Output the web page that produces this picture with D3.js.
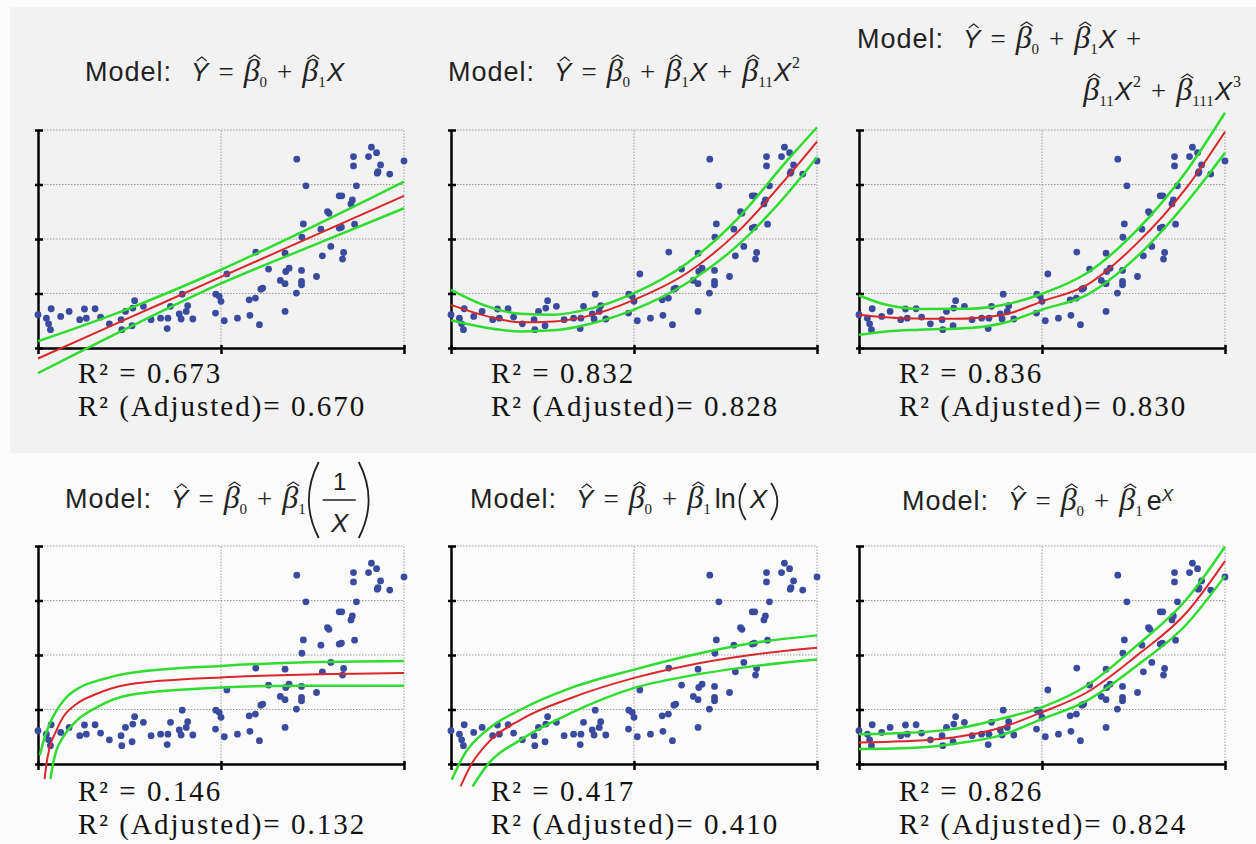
<!DOCTYPE html>
<html>
<head>
<meta charset="utf-8">
<script src="https://cdn.jsdelivr.net/npm/d3@7"></script>
<style>
body { margin: 0; background: #fbfbfb; }
svg { display: block; }
</style>
</head>
<body>
<svg id="chart" width="1256" height="844"></svg>
<script>
// scatter points, the same sample in all six panels (0-100 on both axes)
var ptX = [0, 2.3, 2.9, 3.4, 3.6, 6.2, 8.5, 11.4, 12.7, 13.2,
  15.6, 17.1, 19.5, 22.9, 22.7, 23.9, 25.7, 26.4, 25.9, 28.8,
  30.9, 33.5, 35.3, 35.5, 36.2, 38.6, 39.1, 39.4, 40.5, 40.9,
  42.3, 48.5, 48.6, 49.5, 50.0, 50.9, 51.6, 54.5, 57.9, 57.7,
  59.4, 59.5, 60.5, 60.9, 61.4, 63.0, 66.2, 67.5, 67.5, 67.7,
  68.6, 67.5, 70.6, 70.7, 72.0, 72.0, 72.0, 72.1, 72.5, 73.2,
  76.1, 77.3, 77.7, 80.0, 79.1, 79.5, 82.3, 83.0, 82.3, 82.9,
  83.2, 83.5, 85.5, 85.9, 86.2, 86.2, 86.5, 87.0, 90.3, 91.1,
  92.5, 92.7, 93.6, 92.9, 96.1, 100]
var ptY = [15.3, 13.7, 11.1, 8.4, 18.0, 14.5, 16.8, 13.0, 17.9, 13.7,
  18.0, 14.2, 11.1, 8.4, 13.0, 16.8, 10.2, 21.7, 18.3, 19.1,
  13.0, 13.7, 8.9, 13.7, 19.1, 15.6, 13.3, 24.7, 16.8, 19.4,
  13.3, 16.0, 24.7, 23.7, 21.4, 12.5, 34.0, 13.7, 15.0, 22.1,
  22.9, 44.0, 10.7, 27.0, 27.5, 36.2, 31.0, 16.8, 29.5, 35.1,
  36.6, 43.5, 25.2, 86.6, 35.6, 30.5, 29.0, 50.8, 56.9, 74.4,
  32.8, 54.5, 42.3, 46.6, 62.6, 61.8, 69.8, 69.8, 55.0, 55.4,
  40.8, 43.8, 66.1, 67.9, 83.5, 87.8, 56.8, 74.4, 87.8, 92.1,
  89.6, 80.2, 84.0, 80.9, 79.8, 85.8]

// fitted curve (red) and its bands (green), read per panel
var linX = [0, 25, 50, 75, 100]
var linFit = [-4.8, 13.9, 32.6, 51.2, 69.8]
var linUp = [3.1, 18.2, 35.9, 55.6, 76.3]
var linLo = [-11.5, 9.6, 29.6, 47.0, 64.1]

var quadX = [0, 10, 19, 28, 37, 50, 64.5, 78, 92, 100]
var quadFit = [19.8, 14.5, 11.8, 12.2, 14.5, 22.1, 34.4, 52.7, 78.6, 94.7]
var quadUp = [26.7, 19.1, 15.7, 15.3, 17.6, 25.2, 38.9, 58.8, 86.3, 101.2]
var quadLo = [12.7, 9.2, 7.6, 8.1, 10.7, 17.6, 29.8, 46.6, 71.0, 87.5]

var cubFitX = [0, 12.1, 25.8, 39.5, 50, 62.3, 76, 89.7, 100]
var cubFit = [15.3, 13.7, 13.4, 15.3, 21.4, 29.0, 48.1, 74.0, 99.2]
var cubBandX = [0, 7.5, 16.6, 30.3, 39.5, 50, 62.3, 76, 89.7, 100]
var cubUp = [24.1, 19.8, 17.9, 18.0, 19.8, 24.9, 34.4, 54.2, 81.7, 107.9]
var cubLo = [6.1, 7.6, 8.4, 9.2, 11.5, 17.6, 24.4, 42.0, 67.2, 89.6]

var invX = [1.8, 2.3, 3.2, 5.0, 6.8, 10.5, 15.9, 25.0, 50.0, 71.4, 100]
var invFit = [-6.9, 0, 7.6, 15.3, 21.3, 27.5, 32.1, 36.6, 39.7, 40.9, 41.7]
var invUpX = [0.5, 1.8, 3.2, 5.0, 7.7, 11.4, 17.7, 25.0, 50, 71.4, 100]
var invUp = [4, 12.2, 18.5, 24.4, 30.5, 35.1, 38.9, 41.7, 45.0, 46.6, 47.3]
var invLoX = [3.4, 4.1, 5.0, 6.8, 10.5, 15.9, 25.0, 50, 71.4, 100]
var invLo = [-6.9, 0, 6.1, 12.2, 19.8, 25.9, 31.7, 35.1, 35.9, 35.9]

var logX = [2.6, 5.5, 10.0, 19.1, 32.8, 50.1, 64.7, 82.9, 100]
var logFit = [-10.3, -0.3, 9.6, 20.4, 30.3, 39.5, 45.2, 50.2, 53.3]
var logUpX = [0.2, 3.6, 10.0, 19.1, 32.8, 50.1, 64.7, 82.9, 100]
var logUp = [-7.2, 4.3, 15.8, 25.0, 34.9, 43.3, 49.5, 55.6, 59.0]
var logLoX = [5.9, 10.0, 19.1, 32.8, 50.1, 64.7, 82.9, 100]
var logLo = [-10.3, -0.3, 11.2, 23.4, 34.9, 40.3, 44.9, 47.9]

var expX = [0, 12, 25.7, 39.4, 49.9, 62.2, 75.8, 89.5, 100]
var expFit = [9.9, 10.4, 12.2, 17.0, 23.7, 32.8, 49.6, 69.5, 93.1]
var expUp = [13.7, 14.2, 16.0, 21.0, 26.0, 35.9, 54.2, 75.6, 99.7]
var expLo = [6.9, 7.2, 9.2, 13.5, 20.6, 29.0, 45.0, 64.1, 86.3]

var r2 = ["0.673", "0.832", "0.836", "0.146", "0.417", "0.826"]
var r2adj = ["0.670", "0.828", "0.830", "0.132", "0.410", "0.824"]

var xTicks = [0, 50, 100]
var yTicks = [0, 25, 50, 75, 100]

var panels = [
  {fit: [linX, linFit], up: [linX, linUp], lo: [linX, linLo]},
  {fit: [quadX, quadFit], up: [quadX, quadUp], lo: [quadX, quadLo]},
  {fit: [cubFitX, cubFit], up: [cubBandX, cubUp], lo: [cubBandX, cubLo]},
  {fit: [invX, invFit], up: [invUpX, invUp], lo: [invLoX, invLo]},
  {fit: [logX, logFit], up: [logUpX, logUp], lo: [logLoX, logLo]},
  {fit: [expX, expFit], up: [expX, expUp], lo: [expX, expLo]}
]

// title formulas: [style, text, hat]
var head = [["lab", "Model:"], ["var", "Y", 1], ["op", "="], ["gr", "β", 1], ["sub", "0"], ["op", "+"], ["gr", "β", 1], ["sub", "1"]]
var titles = [
  [head.concat([["var", "X"]])],
  [head.concat([["var", "X"], ["op", "+"], ["gr", "β", 1], ["sub", "11"], ["var", "X"], ["sup", "2"]])],
  [head.concat([["var", "X"], ["op", "+"]]),
   [["gr", "β", 1], ["sub", "11"], ["var", "X"], ["sup", "2"], ["op", "+"], ["gr", "β", 1], ["sub", "111"], ["var", "X"], ["sup", "3"]]],
  [head.concat([["big", "("], ["frac", "1", "X"], ["big", ")"]])],
  [head.concat([["fn", "ln"], ["par", "("], ["var", "X"], ["par", ")"]])],
  [head.concat([["fn", "e"], ["xsup", "X"]])]
]
// [x, baseline] of each title; second pair for panel 3 is the right end of line two
var titlePos = [[85, 81], [448, 81], [857, 48, 1241, 100], [65, 508], [470, 508], [902, 510]]

var W = 366, H = 218
var lefts = [38, 451, 859], tops = [130, 546]

var svg = d3.select("#chart")
svg.append("rect").attr("x", 10).attr("y", 7).attr("width", 1246).attr("height", 446).attr("fill", "#f2f2f2")

var mstyle = {
  lab: {ff: "Liberation Sans", fs: 27, ls: 1, post: 18},
  "var": {ff: "Liberation Sans", fs: 26, it: 1, pre: 1, hx: 2, hy: 23, hw: 5},
  op: {ff: "Liberation Serif", fs: 27, pre: 10, post: 10},
  gr: {ff: "Liberation Serif", fs: 32, it: 1, hx: 3, hy: 25, hw: 6},
  sub: {ff: "Liberation Serif", fs: 15, dy: 6},
  sup: {ff: "Liberation Serif", fs: 16, dy: -13, pre: 1},
  fn: {ff: "Liberation Sans", fs: 27, pre: 4},
  xsup: {ff: "Liberation Sans", fs: 17, it: 1, dy: -9}
}

function hat(g, x, y, w) {
  g.append("path").attr("d", "M" + (x - w) + "," + (y + 3) + "L" + x + "," + (y - 1) + "L" + (x + w) + "," + (y + 3))
    .attr("fill", "none").attr("stroke", "#222").attr("stroke-width", 1.1)
}
function paren(g, x, y0, y1, w, open) {
  var a = open ? x + w - 2 : x + 2, c = open ? x - w * 0.45 : x + w * 1.45
  g.append("path").attr("d", "M" + a + "," + y0 + "Q" + c + "," + ((y0 + y1) / 2) + " " + a + "," + y1)
    .attr("fill", "none").attr("stroke", "#222").attr("stroke-width", 1.8)
}
function txt(g, x, y, st, s) {
  return g.append("text").attr("x", x).attr("y", y + (st.dy || 0))
    .attr("font-family", st.ff).attr("font-size", st.fs)
    .attr("font-style", st.it ? "italic" : "normal")
    .attr("letter-spacing", st.ls || 0).attr("fill", "#222").text(s)
}
function drawMath(g, x, y, segs) {
  var cx = x
  segs.forEach(function(s) {
    if (s[0] == "big") { paren(g, cx, y - 46, y + 30, 15, s[1] == "("); cx += 17; return }
    if (s[0] == "par") { paren(g, cx + 2, y - 25, y + 12, 10, s[1] == "("); cx += s[1] == "(" ? 13 : 12; return }
    if (s[0] == "frac") {
      txt(g, cx + 17, y - 18, {ff: "Liberation Sans", fs: 24}, s[1]).attr("text-anchor", "middle")
      txt(g, cx + 17, y + 24, mstyle["var"], s[2]).attr("text-anchor", "middle")
      g.append("line").attr("x1", cx).attr("x2", cx + 33).attr("y1", y - 8).attr("y2", y - 8)
        .attr("stroke", "#222").attr("stroke-width", 1.4)
      cx += 34
      return
    }
    var st = mstyle[s[0]]
    cx += st.pre || 0
    var t = txt(g, cx, y, st, s[1])
    var w = t.node().getComputedTextLength()
    if (s[2]) hat(g, cx + w / 2 + st.hx, y - st.hy, st.hw)
    cx += w + (st.post || 0)
  })
  return cx
}

panels.forEach(function(p, i) {
  var row = Math.floor(i / 3)
  var x0 = lefts[i % 3], y0 = tops[row]
  var x = d3.scaleLinear().domain([0, 100]).range([x0, x0 + W])
  var y = d3.scaleLinear().domain([0, 100]).range([y0 + H, y0])
  var g = svg.append("g")

  // dotted grid
  g.selectAll(".gy").data(yTicks.slice(1)).join("line")
    .attr("x1", x(0)).attr("x2", x(100)).attr("y1", d => y(d)).attr("y2", d => y(d))
    .attr("stroke", "#9a9a9a").attr("stroke-width", 1).attr("stroke-dasharray", "1.5,1.5")
  g.selectAll(".gx").data(xTicks.slice(1)).join("line")
    .attr("x1", d => x(d)).attr("x2", d => x(d)).attr("y1", y(0)).attr("y2", y(100))
    .attr("stroke", "#9a9a9a").attr("stroke-width", 1).attr("stroke-dasharray", "1.5,1.5")

  var ax = g.append("g").attr("transform", "translate(0," + y(0) + ")")
    .call(d3.axisBottom(x).tickValues(xTicks).tickFormat("").tickSizeInner(6).tickSizeOuter(0))
  ax.selectAll(".tick line").attr("y1", -3)
  var ay = g.append("g").attr("transform", "translate(" + x(0) + ",0)")
    .call(d3.axisLeft(y).tickValues(yTicks).tickFormat("").tickSizeInner(3).tickSizeOuter(0))
  ay.selectAll(".tick line").attr("x1", 5)
  g.selectAll(".domain, .tick line").attr("stroke", "#000").attr("stroke-width", 2.5)

  g.selectAll(".pt").data(ptX).join("circle")
    .attr("cx", d => x(d)).attr("cy", (d, k) => y(ptY[k])).attr("r", 3.4)
    .attr("fill", "#3a4a9e")

  var line = d3.line().x(d => x(d[0])).y(d => y(d[1])).curve(d3.curveMonotoneX)
  ;[["up", "#2fdc2f", 2.5], ["lo", "#2fdc2f", 2.5], ["fit", "#d9272b", 2]].forEach(function(c) {
    g.append("path").attr("d", line(d3.zip(p[c[0]][0], p[c[0]][1])))
      .attr("fill", "none").attr("stroke", c[1]).attr("stroke-width", c[2])
  })

  var tp = titlePos[i]
  drawMath(g, tp[0], tp[1], titles[i][0])
  if (titles[i][1]) {
    var g2 = g.append("g")
    var end = drawMath(g2, 0, tp[3], titles[i][1])
    g2.attr("transform", "translate(" + (tp[2] - end) + ",0)")
  }

  var rx = x0 + 40, ry = y0 + H + 35 + row * 2
  g.append("text").attr("x", rx).attr("y", ry).attr("font-family", "Liberation Serif")
    .attr("font-size", 29).attr("letter-spacing", 2).attr("fill", "#111").text("R² = " + r2[i])
  g.append("text").attr("x", rx).attr("y", ry + 33).attr("font-family", "Liberation Serif")
    .attr("font-size", 29).attr("letter-spacing", 2).attr("fill", "#111").text("R² (Adjusted)= " + r2adj[i])
})
</script>
</body>
</html>
